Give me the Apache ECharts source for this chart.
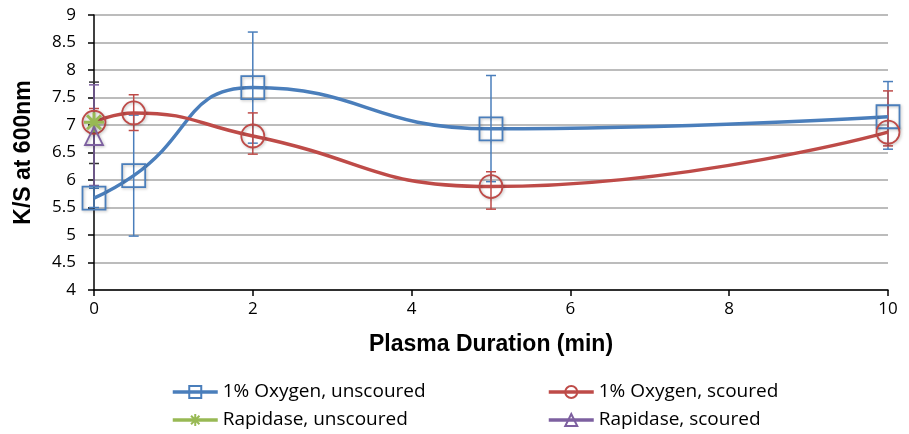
<!DOCTYPE html>
<html>
<head>
<meta charset="utf-8">
<script src="https://cdn.jsdelivr.net/npm/echarts@6/dist/echarts.min.js"></script>
<style>
  html, body { margin: 0; padding: 0; background: #fff; }
  #chart { width: 909px; height: 434px; }
</style>
</head>
<body>
<div id="chart"></div>
<script>
// plasma duration (min)
const durations = [0, 0.5, 2, 5, 10];

// 1% Oxygen, unscoured
const oxyUnscoured = [5.67, 6.08, 7.68, 6.93, 7.15];
const oxyUnscouredLow = [5.5, 4.98, 6.67, 5.97, 6.56];
const oxyUnscouredHigh = [5.85, 7.18, 8.69, 7.9, 7.79];

// 1% Oxygen, scoured
const oxyScoured = [7.05, 7.22, 6.8, 5.88, 6.87];
const oxyScouredLow = [6.85, 6.9, 6.47, 5.47, 6.62];
const oxyScouredHigh = [7.3, 7.55, 7.22, 6.15, 7.62];

// Rapidase (single point at 0 min)
const rapUnscoured = [7.05];
const rapUnscouredLow = [6.3];
const rapUnscouredHigh = [7.78];
const rapScoured = [6.8];
const rapScouredLow = [5.9];
const rapScouredHigh = [7.73];

const BLUE = '#4a7ebb', RED = '#be4b48', GREEN = '#98b954', PURPLE = '#7d60a0';

const pts = (xs, ys) => ys.map((y, i) => [xs[i], y]);
const bars = (xs, lo, hi) => lo.map((l, i) => [xs[i], l, hi[i]]);

function errorSeries(name, color, data) {
  return {
    name: name,
    type: 'custom',
    z: 3,
    silent: true,
    data: data,
    encode: { x: 0, y: [1, 2] },
    renderItem: function(params, api) {
      const top = api.coord([api.value(0), api.value(2)]);
      const bot = api.coord([api.value(0), api.value(1)]);
      const w = 5;
      const style = { stroke: color, lineWidth: 1.5 };
      return {
        type: 'group',
        children: [
          { type: 'line', shape: { x1: top[0], y1: top[1], x2: bot[0], y2: bot[1] }, style: style },
          { type: 'line', shape: { x1: top[0] - w, y1: top[1], x2: top[0] + w, y2: top[1] }, style: style },
          { type: 'line', shape: { x1: bot[0] - w, y1: bot[1], x2: bot[0] + w, y2: bot[1] }, style: style }
        ]
      };
    }
  };
}

function lineSeries(name, color, data, symbol, size, border) {
  return {
    name: name,
    type: 'line',
    z: 4,
    smooth: true,
    data: data,
    symbol: symbol,
    symbolSize: size,
    showAllSymbol: true,
    lineStyle: { color: color, width: 3.5 },
    itemStyle: {
      color: 'rgba(255,255,255,0)',
      borderColor: color,
      borderWidth: border || 1.8,
      shadowColor: 'rgba(0,0,0,0.25)',
      shadowBlur: 3,
      shadowOffsetX: 1,
      shadowOffsetY: 1
    }
  };
}

const chart = echarts.init(document.getElementById('chart'));

const labelFont = { color: '#000', fontSize: 17, fontFamily: 'Open Sans, Liberation Sans, sans-serif' };
const nameFont = { color: '#000', fontSize: 23, fontWeight: 'bold', fontFamily: 'Liberation Sans, Arial, sans-serif' };
const legendFont = { color: '#000', fontSize: 19, lineHeight: 22, fontFamily: 'Open Sans, Liberation Sans, sans-serif' };

const asterisk = 'path://M0,5 L10,5 M5,0 L5,10 M1.5,1.5 L8.5,8.5 M8.5,1.5 L1.5,8.5';

// one legend box per entry, laid out as a 2x2 grid
function legendAt(name, left, top) {
  return {
    left: left, top: top, padding: 0,
    itemWidth: 45, itemHeight: 15,
    lineStyle: { width: 3.5 },
    textStyle: legendFont,
    data: [name]
  };
}

chart.setOption({
  animation: false,
  grid: { left: 94, right: 21, top: 15, bottom: 144 },
  xAxis: {
    type: 'value',
    min: 0, max: 10, interval: 2,
    name: 'Plasma Duration (min)',
    nameLocation: 'middle',
    nameGap: 43,
    nameTextStyle: nameFont,
    axisLine: { lineStyle: { color: '#000', width: 1.5 } },
    axisTick: { show: true, length: 6, lineStyle: { color: '#000', width: 1.5 } },
    axisLabel: Object.assign({ margin: 11 }, labelFont),
    splitLine: { show: false }
  },
  yAxis: {
    type: 'value',
    min: 4, max: 9, interval: 0.5,
    name: 'K/S at 600nm',
    nameLocation: 'middle',
    nameGap: 59,
    nameTextStyle: nameFont,
    axisLine: { show: true, lineStyle: { color: '#000', width: 1.5 } },
    axisTick: { show: true, length: 6, lineStyle: { color: '#000', width: 1.5 } },
    axisLabel: Object.assign({ margin: 18 }, labelFont),
    splitLine: { show: true, lineStyle: { color: '#a6a6a6', width: 1.5 } }
  },
  legend: [
    legendAt('1% Oxygen, unscoured', 171, 381),
    legendAt('Rapidase, unscoured', 171, 409),
    legendAt('1% Oxygen, scoured', 547, 381),
    legendAt('Rapidase, scoured', 547, 409)
  ],
  series: [
    errorSeries('err-oxy-unscoured', BLUE, bars(durations, oxyUnscouredLow, oxyUnscouredHigh)),
    errorSeries('err-oxy-scoured', RED, bars(durations, oxyScouredLow, oxyScouredHigh)),
    errorSeries('err-rap-unscoured', '#333', bars([0], rapUnscouredLow, rapUnscouredHigh)),
    errorSeries('err-rap-scoured', PURPLE, bars([0], rapScouredLow, rapScouredHigh)),
    lineSeries('1% Oxygen, unscoured', BLUE, pts(durations, oxyUnscoured), 'rect', 23),
    lineSeries('1% Oxygen, scoured', RED, pts(durations, oxyScoured), 'circle', 23),
    lineSeries('Rapidase, unscoured', GREEN, pts([0], rapUnscoured), asterisk, 20, 3),
    lineSeries('Rapidase, scoured', PURPLE, pts([0], rapScoured), 'triangle', 18)
  ]
});
</script>
</body>
</html>
